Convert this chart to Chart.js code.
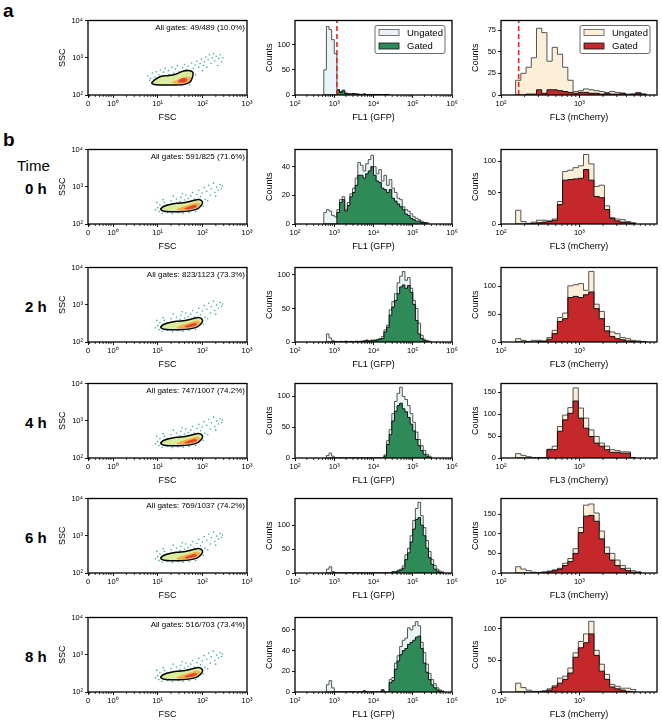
<!DOCTYPE html>
<html lang="en">
<head>
<meta charset="UTF-8">
<title>Flow cytometry time course</title>
<script src="https://cdn.jsdelivr.net/npm/chart.js"></script>
<style>
  body { margin: 0; background: #fff; font-family: 'Liberation Sans', Arial, sans-serif; }
  #fig { position: relative; width: 662px; height: 723px; overflow: hidden; }
  canvas.panel { position: absolute; }
  .lbl { position: absolute; color: #000; white-space: nowrap; line-height: 1; }
</style>
</head>
<body>
<div id="fig"></div>
<script>
// ---- labels ----
const rowLabels = ['0 h', '2 h', '4 h', '6 h', '8 h'];
const gateTexts = ['All gates: 49/489 (10.0%)', 'All gates: 591/825 (71.6%)', 'All gates: 823/1123 (73.3%)',
                   'All gates: 747/1007 (74.2%)', 'All gates: 769/1037 (74.2%)', 'All gates: 516/703 (73.4%)'];

// ---- scatter (x = log10 FSC, y = SSC) ----
const gateA = [[0.86,210],[0.94,260],[1.08,320],[1.22,330],[1.4,360],[1.58,440],[1.72,450],[1.79,400],[1.78,300],[1.72,220],[1.58,190],[1.31,185],[1.04,186],[0.9,195],[0.86,210]];
const orangeA = [[1.31,215],[1.45,260],[1.58,300],[1.72,310],[1.75,250],[1.63,205],[1.4,200],[1.31,215]];
const redA = [[1.45,235],[1.54,280],[1.66,270],[1.63,225],[1.5,215],[1.45,235]];
const tealA = [[0.78,330],[0.82,250],[0.84,280],[0.88,390],[0.9,225],[0.94,300],[0.97,420],[0.99,205],[1.03,350],[1.06,470],
               [1.1,240],[1.13,410],[1.17,520],[1.2,300],[1.24,450],[1.28,190],[1.32,560],[1.36,390],[1.4,500],[1.44,610],
               [1.48,420],[1.52,180],[1.56,540],[1.6,660],[1.64,480],[1.68,590],[1.72,185],[1.76,720],[1.8,520],[1.84,640],
               [1.88,800],[1.92,560],[1.95,700],[1.98,920],[2.02,620],[2.05,780],[2.08,1050],[2.1,560],[2.13,880],[2.16,1200],
               [2.19,700],[2.22,980],[2.25,1300],[2.28,820],[2.31,1100],[2.34,620],[2.37,960],[2.4,1200],[2.43,780],[2.46,1000],
               [1.0,260],[1.25,350],[1.5,300],[1.85,350],[2.0,450]];

const gateB = [[1.06,246],[1.12,290],[1.25,330],[1.42,360],[1.62,380],[1.78,420],[1.92,455],[2.0,400],[1.99,330],[1.9,260],[1.72,225],[1.5,213],[1.3,213],[1.14,220],[1.06,246]];
const orangeB = [[1.42,250],[1.56,290],[1.74,340],[1.9,380],[1.95,330],[1.86,270],[1.66,235],[1.46,228],[1.42,250]];
const redB = [[1.6,265],[1.72,300],[1.84,325],[1.88,290],[1.76,255],[1.62,248],[1.6,265]];
const tealB = [[0.95,240],[0.98,380],[1.0,275],[1.03,215],[1.05,330],[1.08,260],[1.1,195],[1.12,450],[1.15,380],[1.18,240],
               [1.2,330],[1.22,205],[1.26,300],[1.3,420],[1.33,190],[1.35,560],[1.38,350],[1.4,240],[1.42,470],[1.45,200],
               [1.48,300],[1.5,400],[1.52,520],[1.55,650],[1.57,195],[1.6,440],[1.63,600],[1.65,330],[1.68,480],[1.7,205],
               [1.74,560],[1.78,700],[1.82,470],[1.85,215],[1.88,620],[1.9,350],[1.92,800],[1.96,540],[2.0,680],[2.02,300],
               [2.04,950],[2.06,460],[2.1,760],[2.12,420],[2.14,1100],[2.18,600],[2.2,880],[2.25,1250],[2.28,700],[2.3,560],
               [2.32,980],[2.36,820],[2.4,1150],[2.43,900],[2.45,1050]];

// ---- histograms: counts per bin, bins are 1/15 decade wide ----
const gfpStart = [11, 11, 12, 12, 12, 12];
const gfpUngatedA = [50,136,130,110,82,11,7,10,4,3,2,3,2,2,1,2,1,1,0,1,1,1,0,1,1];
const gfpGatedA   = [0,0,0,0,0,10,5,8,3,2,2,3,2,1,1,2,1,1,0,1,1,1,0,1,1];
const gfpUngated0 = [8,10,9,6,5,10,17,19,10,15,21,25,32,43,41,37,42,45,48,40,35,38,30,34,27,31,25,22,18,17,12,10,9,7,5,4,3,2,1,1];
const gfpGated0   = [0,0,0,0,0,8,15,17,9,13,19,22,27,34,34,32,35,37,40,34,30,29,25,24,22,24,18,16,14,12,10,7,6,4,3,2,2,1,1,0];
const gfpUngated2 = [12,6,2,1,0,1,0,1,0,1,0,1,1,1,2,3,2,3,3,4,5,8,18,25,48,60,72,88,98,105,92,96,80,62,50,28,10,4,2,1];
const gfpGated2   = [0,0,0,0,0,0,0,1,0,0,0,1,0,1,1,2,1,2,2,3,4,5,15,22,40,52,62,72,82,85,80,84,74,56,32,12,5,2,1,0];
const gfpUngated4 = [4,8,3,0,0,0,0,0,0,0,0,0,0,0,0,0,0,0,0,0,0,0,5,28,46,72,92,105,115,100,95,85,72,58,42,30,20,12,6,3];
const gfpGated4   = [0,0,0,0,0,0,0,0,0,0,0,0,0,0,0,0,0,0,0,0,0,0,3,22,38,60,76,85,89,80,75,66,55,44,30,20,12,6,3,1];
const gfpUngated6 = [8,13,3,0,0,0,0,0,0,0,0,0,0,0,0,0,0,0,0,0,0,0,0,0,0,3,3,6,8,15,38,52,78,110,135,148,120,95,68,45,28,16,8,4,2];
const gfpGated6   = [0,0,0,0,0,0,0,0,0,0,0,0,0,0,0,0,0,0,0,0,0,0,0,0,0,2,2,4,6,10,28,42,65,92,112,116,100,78,52,32,18,8,4,1,0];
const gfpUngated8 = [7,11,4,0,0,0,0,0,0,0,0,0,0,0,1,0,0,0,0,0,0,2,0,0,12,14,28,35,44,50,52,62,60,64,68,64,48,38,27,18,12,8,4,2,1];
const gfpGated8   = [0,0,0,0,0,0,0,0,0,0,0,0,0,0,1,0,0,0,0,0,0,2,0,0,9,11,22,30,36,40,42,46,48,50,53,54,42,28,19,12,7,4,2,1,0];

const mchStart = [2, 2, 2, 2, 2, 2];
const mchUngatedA = [17,25,32,43,77,72,39,55,47,32,17,4,5,7,6,5,4,3,4,3,2,1,1,3,1];
const mchGatedA   = [0,0,1,1,6,2,6,6,5,4,3,2,3,3,2,2,1,2,1,1,2,0,1,2,1];
const mchUngated0 = [22,4,1,3,6,6,5,8,36,84,86,90,93,111,96,60,62,29,10,8,7,4,2];
const mchGated0   = [0,0,0,1,2,3,4,6,31,70,71,72,73,87,70,44,42,23,9,5,3,2,1];
const mchUngated2 = [6,3,1,3,3,2,8,21,44,52,101,103,105,93,127,68,55,28,18,15,8,6,3,2,1];
const mchGated2   = [0,0,0,0,1,1,5,15,37,42,80,82,80,85,90,60,42,20,10,6,4,2,1,0,0];
const mchUngated4 = [10,6,3,1,1,1,20,27,72,98,115,160,114,91,64,49,34,27,19,17,14,14,1];
const mchGated4   = [0,0,0,0,0,0,19,19,61,87,102,130,91,68,49,34,27,19,13,13,11,11,0];
const mchUngated6 = [16,10,6,2,1,3,5,8,12,25,37,62,116,173,176,153,107,66,50,33,19,12,6,3];
const mchGated6   = [0,0,0,0,0,1,3,6,10,19,29,50,103,145,147,132,87,50,33,19,11,6,2,1];
const mchUngated8 = [14,7,3,1,1,2,5,10,22,25,38,62,80,92,112,66,44,28,12,9,6,6,4];
const mchGated8   = [0,0,0,0,0,1,3,8,14,20,30,55,70,78,92,58,33,20,8,5,3,1,0];

const gfpUngated = [gfpUngatedA, gfpUngated0, gfpUngated2, gfpUngated4, gfpUngated6, gfpUngated8];
const gfpGated = [gfpGatedA, gfpGated0, gfpGated2, gfpGated4, gfpGated6, gfpGated8];
const mchUngated = [mchUngatedA, mchUngated0, mchUngated2, mchUngated4, mchUngated6, mchUngated8];
const mchGated = [mchGatedA, mchGated0, mchGated2, mchGated4, mchGated6, mchGated8];

// y axis tops and tick values
const gfpMax = [148, 52, 111, 121, 156, 72];
const gfpTicks = [[0,50,100], [0,20,40], [0,50,100], [0,50,100], [0,50,100], [0,20,40,60]];
const mchMax = [86, 119, 134, 170, 190, 118];
const mchTicks = [[0,25,50,75], [0,50,100], [0,50,100], [0,50,100,150], [0,50,100,150], [0,50,100]];

// gate thresholds in row a
const gfpThreshold = 1170;
const mchThreshold = 168;

// ---- layout ----
const AX_W = 31, AX_H = 28, PAD_T = 6, PAD_R = 8, BOX_H = 75;
const ROW_TOP = [20, 149, 267, 383, 498, 617];
const SC = [88, 247], GFP = [295, 452], MCH = [501, 657];
const FONT = "'Liberation Sans', Arial, Helvetica, sans-serif";

Chart.defaults.font.family = FONT;
Chart.defaults.color = '#000';
Chart.defaults.animation = false;
Chart.defaults.plugins.legend.display = false;
Chart.defaults.plugins.tooltip.enabled = false;

const SUP = ['⁰', '¹', '²', '³', '⁴', '⁵', '⁶'];
const powLabel = v => '10' + SUP[Math.round(Math.log10(v))];

// frame, minor ticks, corner note and legend box
Chart.register({
  id: 'frame',
  afterDraw(chart, args, opts) {
    const { ctx, chartArea: a } = chart;
    const xs = chart.scales.x;
    ctx.save();
    if (opts.minor) {
      ctx.strokeStyle = '#000';
      ctx.lineWidth = 0.8;
      ctx.beginPath();
      opts.minor.forEach(v => {
        const x = xs.getPixelForValue(v);
        if (x > a.left + 0.5 && x < a.right - 0.5) {
          ctx.moveTo(x, a.bottom);
          ctx.lineTo(x, a.bottom + 2);
        }
      });
      ctx.stroke();
    }
    ctx.strokeStyle = '#000';
    ctx.lineWidth = 1.3;
    ctx.strokeRect(a.left, a.top, a.right - a.left, a.bottom - a.top);
    if (opts.note) {
      ctx.fillStyle = '#000';
      ctx.font = '8px ' + FONT;
      ctx.textAlign = 'right';
      ctx.textBaseline = 'middle';
      ctx.fillText(opts.note, a.right - 2, a.top + 7);
    }
    if (opts.legend) {
      const w = 70, h = 28;
      const x0 = a.right - 7 - w, y0 = a.top + 5;
      ctx.fillStyle = '#fff';
      ctx.strokeStyle = '#444';
      ctx.lineWidth = 0.8;
      ctx.beginPath();
      ctx.roundRect(x0, y0, w, h, 2);
      ctx.fill();
      ctx.stroke();
      opts.legend.forEach((it, i) => {
        const yy = y0 + 4 + i * 13.5;
        ctx.fillStyle = it.fill;
        ctx.fillRect(x0 + 4, yy, 20, 6);
        ctx.strokeStyle = it.edge;
        ctx.strokeRect(x0 + 4, yy, 20, 6);
        ctx.fillStyle = '#000';
        ctx.font = '9.5px ' + FONT;
        ctx.textAlign = 'left';
        ctx.textBaseline = 'middle';
        ctx.fillText(it.label, x0 + 32, yy + 3.5);
      });
    }
    ctx.restore();
  }
});

const fig = document.getElementById('fig');

function addCanvas(boxLeft, boxRight, boxTop) {
  const w = boxRight - boxLeft + AX_W + PAD_R;
  const h = BOX_H + PAD_T + AX_H;
  const c = document.createElement('canvas');
  c.className = 'panel';
  c.width = w; c.height = h;
  c.style.left = (boxLeft - AX_W) + 'px';
  c.style.top = (boxTop - PAD_T) + 'px';
  c.style.width = w + 'px';
  c.style.height = h + 'px';
  fig.appendChild(c);
  return c;
}

function addLabel(text, left, top, size, weight) {
  const d = document.createElement('div');
  d.className = 'lbl';
  d.textContent = text;
  d.style.left = left + 'px';
  d.style.top = top + 'px';
  d.style.fontSize = size + 'px';
  d.style.fontWeight = weight;
  fig.appendChild(d);
}

const axisGrid = { drawOnChartArea: false, drawTicks: true, tickLength: 3, color: '#000', lineWidth: 0.9 };

function yAxis(extra) {
  return Object.assign({
    position: 'left',
    afterFit: s => { s.width = AX_W; },
    grid: axisGrid,
    border: { display: false },
    ticks: { font: { size: 7.5 }, padding: 2 }
  }, extra);
}
function xAxis(extra) {
  return Object.assign({
    position: 'bottom',
    afterFit: s => { s.height = AX_H; },
    grid: axisGrid,
    border: { display: false },
    ticks: { font: { size: 7.5 }, padding: 1, maxRotation: 0, autoSkip: false, callback: powLabel }
  }, extra);
}

const toXY = arr => arr.map(p => ({ x: p[0], y: p[1] }));

function scatterPanel(r) {
  const a = r === 0;
  const c = addCanvas(SC[0], SC[1], ROW_TOP[r]);
  const shape = (pts, color) => ({
    data: toXY(pts), showLine: true, fill: 'shape', backgroundColor: color,
    borderColor: 'transparent', borderWidth: 0, tension: 0.4, pointRadius: 0
  });
  const scMinor = [];
  for (let n = -1; n <= 2; n++) for (let k = 2; k <= 9; k++) {
    const v = n + Math.log10(k);
    if (v > -0.56 && v < 3) scMinor.push(v);
  }
  new Chart(c, {
    type: 'line',
    data: {
      datasets: [
        { data: toXY(a ? gateA : gateB), borderColor: '#000', borderWidth: 1.5, tension: 0.35, pointRadius: 0, fill: false },
        shape(a ? redA : redB, '#e4472f'),
        shape(a ? orangeA : orangeB, '#f6ae4c'),
        shape(a ? gateA : gateB, '#dbec9d'),
        { data: toXY(a ? tealA : tealB), showLine: false, pointRadius: 0.8, pointBackgroundColor: '#37aca6', pointBorderWidth: 0 }
      ]
    },
    options: {
      responsive: false,
      devicePixelRatio: 1,
      layout: { padding: { top: PAD_T, right: PAD_R, left: 0, bottom: 0 } },
      scales: {
        x: xAxis({
          type: 'linear', min: -0.56, max: 3,
          afterBuildTicks: s => { s.ticks = [-0.56, 0, 1, 2, 3].map(v => ({ value: v })); },
          ticks: { font: { size: 7.5 }, padding: 1, maxRotation: 0, autoSkip: false,
                   callback: v => v < -0.1 ? '0' : '10' + SUP[Math.round(v)] },
          title: { display: true, text: 'FSC', font: { size: 9 }, padding: 0 }
        }),
        y: yAxis({
          type: 'logarithmic', min: 100, max: 10000,
          afterBuildTicks: s => { s.ticks = [100, 1000, 10000].map(v => ({ value: v })); },
          ticks: { font: { size: 7.5 }, padding: 2, callback: powLabel },
          title: { display: true, text: 'SSC', font: { size: 9 }, padding: 0 }
        })
      },
      plugins: { frame: { minor: scMinor, note: gateTexts[r] } }
    }
  });
}

function binEdge(i, off) { return Math.pow(10, 2 + (i + off) / 15); }
function histPoints(start, counts, off) {
  const pts = [{ x: binEdge(start, off), y: 0 }];
  counts.forEach((v, k) => pts.push({ x: binEdge(start + k, off), y: v }));
  pts.push({ x: binEdge(start + counts.length, off), y: 0 });
  return pts;
}

function histPanel(r, box, cfg) {
  const c = addCanvas(box[0], box[1], ROW_TOP[r]);
  const datasets = [
    { data: histPoints(cfg.start, cfg.gated, cfg.off), stepped: 'before', fill: 'origin',
      backgroundColor: cfg.gatedFill, borderColor: '#111', borderWidth: 1, pointRadius: 0 },
    { data: histPoints(cfg.start, cfg.ungated, cfg.off), stepped: 'before', fill: 'origin',
      backgroundColor: cfg.ungatedFill, borderColor: '#555', borderWidth: 1, pointRadius: 0 }
  ];
  if (r === 0) {
    datasets.unshift({ data: [{ x: cfg.threshold, y: 0 }, { x: cfg.threshold, y: cfg.max }],
      borderColor: '#e8231d', borderWidth: 1.6, borderDash: [5, 3], pointRadius: 0, fill: false });
  }
  const majors = [];
  const minor = [];
  for (let n = 2; n <= 6; n++) {
    if (Math.pow(10, n) <= cfg.xmax) majors.push(Math.pow(10, n));
    for (let k = 2; k <= 9; k++) if (k * Math.pow(10, n) < cfg.xmax) minor.push(k * Math.pow(10, n));
  }
  new Chart(c, {
    type: 'line',
    data: { datasets },
    options: {
      responsive: false,
      devicePixelRatio: 1,
      layout: { padding: { top: PAD_T, right: PAD_R, left: 0, bottom: 0 } },
      scales: {
        x: xAxis({
          type: 'logarithmic', min: 100, max: cfg.xmax,
          afterBuildTicks: s => { s.ticks = majors.map(v => ({ value: v })); },
          title: { display: true, text: cfg.title, font: { size: 9 }, padding: 0 }
        }),
        y: yAxis({
          type: 'linear', min: 0, max: cfg.max,
          afterBuildTicks: s => { s.ticks = cfg.ticks.map(v => ({ value: v })); },
          ticks: { font: { size: 7.5 }, padding: 2 },
          title: { display: true, text: 'Counts', font: { size: 9 }, padding: 0 }
        })
      },
      plugins: {
        frame: {
          minor,
          legend: r === 0 ? [
            { label: 'Ungated', fill: cfg.ungatedFill, edge: '#555' },
            { label: 'Gated', fill: cfg.gatedFill, edge: '#111' }
          ] : null
        }
      }
    }
  });
}

for (let r = 0; r < 6; r++) {
  scatterPanel(r);
  histPanel(r, GFP, {
    start: gfpStart[r], off: 0, ungated: gfpUngated[r], gated: gfpGated[r],
    max: gfpMax[r], ticks: gfpTicks[r], xmax: 1e6, title: 'FL1 (GFP)',
    ungatedFill: '#e8f4f8', gatedFill: '#2e8b57', threshold: gfpThreshold
  });
  histPanel(r, MCH, {
    start: mchStart[r], off: 0.8, ungated: mchUngated[r], gated: mchGated[r],
    max: mchMax[r], ticks: mchTicks[r], xmax: 9800, title: 'FL3 (mCherry)',
    ungatedFill: '#fcefd8', gatedFill: '#c4282b', threshold: mchThreshold
  });
}

// panel letters and time labels
addLabel('a', 3, 1, 19, 'bold');
addLabel('b', 3, 130, 19, 'bold');
addLabel('Time', 17, 158, 15, 'normal');
rowLabels.forEach((t, i) => {
  const mid = ROW_TOP[i + 1] + BOX_H / 2;
  addLabel(t, 25, mid - 6, 15, 'bold');
});
</script>
</body>
</html>
